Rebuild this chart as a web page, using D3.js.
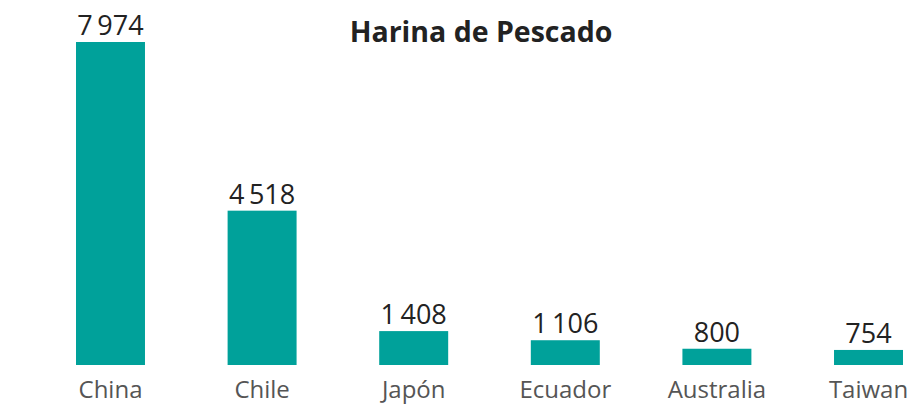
<!DOCTYPE html>
<html lang="es">
<head>
<meta charset="UTF-8">
<title>Harina de Pescado</title>
<script src="https://d3js.org/d3.v7.min.js"></script>
<style>
  body { margin: 0; background: #fff; }
  text { font-family: "Open Sans", "Noto Sans", sans-serif; }
</style>
</head>
<body>
<div id="chart"></div>
<script>
const title = "Harina de Pescado";
const paises = ["China", "Chile", "Japón", "Ecuador", "Australia", "Taiwan"];
const valores = [7974, 4518, 1408, 1106, 800, 754];

const width = 911, height = 405;
const baseY = 365, topY = 42;

const svg = d3.select("#chart").append("svg")
    .attr("width", width)
    .attr("height", height);

const x = d3.scaleBand()
    .domain(paises)
    .range([76, 903])
    .paddingInner(0.545)
    .paddingOuter(0);

// the bars in the original are not drawn to a linear scale; a power scale follows them best
const y = d3.scalePow()
    .exponent(1.3)
    .domain([0, d3.max(valores)])
    .range([baseY, topY]);

const fmt = d3.formatLocale({ decimal: ",", thousands: "\u2009", grouping: [3], currency: ["", ""] }).format(",d");

const data = paises.map((p, i) => ({ pais: p, valor: valores[i] }));

svg.append("text")
    .attr("x", 481)
    .attr("y", 42)
    .attr("text-anchor", "middle")
    .attr("font-size", 28.5)
    .attr("font-weight", 700)
    .attr("fill", "#222")
    .text(title);

svg.selectAll("rect.bar")
    .data(data)
    .enter()
    .append("rect")
    .attr("class", "bar")
    .attr("x", d => x(d.pais))
    .attr("y", d => y(d.valor))
    .attr("width", x.bandwidth())
    .attr("height", d => baseY - y(d.valor))
    .attr("fill", "#00a19a");

svg.selectAll("text.valor")
    .data(data)
    .enter()
    .append("text")
    .attr("class", "valor")
    .attr("x", d => x(d.pais) + x.bandwidth() / 2)
    .attr("y", d => y(d.valor) - 7)
    .attr("text-anchor", "middle")
    .attr("font-size", 27)
    .attr("fill", "#222")
    .text(d => fmt(d.valor));

// category axis, no line or ticks
const xAxis = svg.append("g")
    .attr("transform", `translate(0,${baseY})`)
    .call(d3.axisBottom(x).tickSize(0).tickPadding(16));
xAxis.select(".domain").remove();
xAxis.selectAll("text")
    .attr("font-size", 24)
    .attr("fill", "#555")
    .attr("font-family", "\"Open Sans\", \"Noto Sans\", sans-serif");
</script>
</body>
</html>
